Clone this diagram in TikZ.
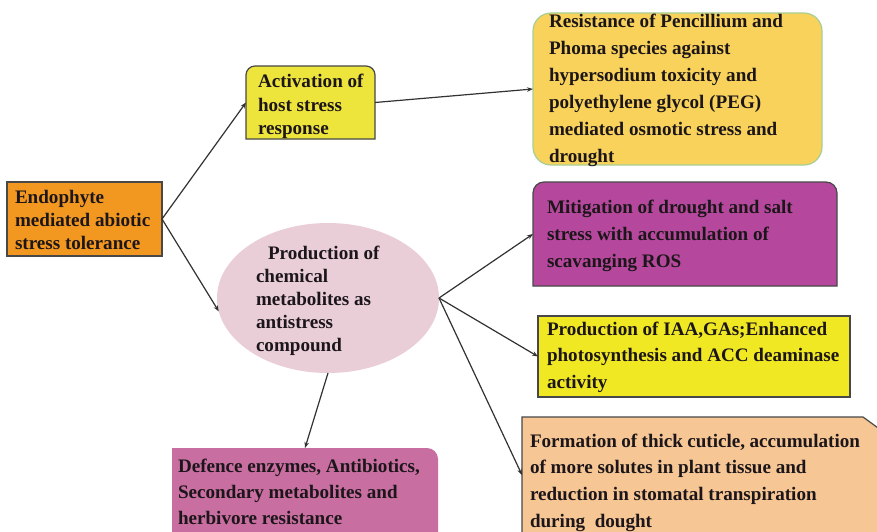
\documentclass[tikz,border=0pt]{standalone}
\usepackage{fontspec}
\setmainfont{Liberation Serif}
\usetikzlibrary{shapes.geometric,arrows.meta}

\definecolor{endoorange}{RGB}{242,152,32}
\definecolor{actyellow}{RGB}{238,229,60}
\definecolor{resgold}{RGB}{248,210,90}
\definecolor{resedge}{RGB}{168,206,150}
\definecolor{mitmagenta}{RGB}{181,72,156}
\definecolor{iaayellow}{RGB}{240,232,34}
\definecolor{ellpink}{RGB}{233,206,216}
\definecolor{defpink}{RGB}{200,110,160}
\definecolor{formpeach}{RGB}{246,198,148}
\definecolor{edgegray}{RGB}{72,72,72}
\definecolor{linkgray}{RGB}{50,50,50}
\definecolor{textdark}{RGB}{28,22,26}

% multi-line label whose anchor is the baseline of its first line
\newcommand\boxtext[2]{\parbox[t]{330pt}{\raggedright\fontsize{19.1pt}{#1}\selectfont #2}}

\begin{document}
\begin{tikzpicture}[x=1pt,y=-1pt,
  area/.style={rectangle, inner sep=0pt, outer sep=0pt},
  edge/.style={draw=edgegray, line width=1.2pt},
  link/.style={draw=linkgray, line width=1.2pt, -{Stealth[length=6pt,width=4.5pt]}},
  label/.style={anchor=base west, inner sep=0pt, outer sep=0pt, text=textdark, font=\bfseries}]

\useasboundingbox (0,0) rectangle (877,532);
\fill[white] (0,0) rectangle (877,532);

% box outlines
\node[area, minimum width=155pt, minimum height=74pt, fill=endoorange, draw=edgegray, line width=1.2pt] (endo) at (84.5,219) {};
\node[area, minimum width=129pt, minimum height=73pt] (act) at (310.5,102.5) {};
\node[area, minimum width=289pt, minimum height=152pt, fill=resgold, draw=resedge, line width=1.2pt, rounded corners=18pt] (res) at (677.5,89) {};
\node[area, minimum width=304pt, minimum height=104pt] (mit) at (685,234) {};
\node[area, minimum width=312pt, minimum height=81pt, fill=iaayellow, draw=edgegray, line width=1.5pt] (iaa) at (694,356.5) {};
\node[ellipse, inner sep=0pt, outer sep=0pt, minimum width=222pt, minimum height=150pt, fill=ellpink] (ell) at (328,298) {};
\node[area, minimum width=266pt, minimum height=100pt] (def) at (305,498) {};
\node[area, minimum width=363pt, minimum height=116pt] (form) at (703.5,475) {};

% boxes with rounded top corners
\path[edge, fill=actyellow] (act.south west) -- ([yshift=-9pt]act.north west)
  arc[start angle=180, end angle=90, radius=9pt] -- ([xshift=-9pt]act.north east)
  arc[start angle=90, end angle=0, radius=9pt] -- (act.south east) -- cycle;
\path[edge, fill=mitmagenta] (mit.south west) -- ([yshift=-11pt]mit.north west)
  arc[start angle=180, end angle=90, radius=11pt] -- ([xshift=-11pt]mit.north east)
  arc[start angle=90, end angle=0, radius=11pt] -- (mit.south east) -- cycle;
% box with one rounded corner
\fill[defpink] (def.south west) -- (def.north west) -- ([xshift=-11pt]def.north east)
  arc[start angle=90, end angle=0, radius=11pt] -- (def.south east) -- cycle;
% box with a snipped corner
\fill[formpeach] (form.south west) -- (form.north west) -- ([xshift=-22pt]form.north east)
  -- ([yshift=-16pt]form.north east) -- (form.south east) -- cycle;
\draw[edge] (form.south west) -- (form.north west) -- ([xshift=-22pt]form.north east)
  -- ([yshift=-16pt]form.north east);

% connectors
\draw[link] (endo.east) -- (act.west);
\draw[link] (endo.east) -- (ell.187);
\draw[link] (act.east) -- (res.west);
\draw[link] (ell.east) -- (mit.west);
\draw[link] (ell.east) -- (iaa.west);
\draw[link] (ell.east) -- (form.west);
\draw[link] (ell.south) -- (def.north);

% labels
\node[label] (endoText) at (15,203) {\boxtext{23.2pt}{Endophyte\\mediated abiotic\\stress tolerance}};
\node[label] (actText) at (258,88) {\boxtext{23.3pt}{Activation of\\host stress\\response}};
\node[label] (resText) at (549,28) {\boxtext{26.9pt}{Resistance of Pencillium and\\Phoma species against\\hypersodium toxicity and\\polyethylene glycol (PEG)\\mediated osmotic stress and\\drought}};
\node[label] (mitText) at (547,213) {\boxtext{27.2pt}{Mitigation of drought and salt\\stress with accumulation of\\scavanging ROS}};
\node[label] (iaaText) at (547,335) {\boxtext{26.5pt}{Production of IAA,GAs;Enhanced\\photosynthesis and ACC deaminase\\activity}};
\node[label] (ellText) at (256,259) {\boxtext{23.2pt}{\hspace*{12pt}Production of\\chemical\\metabolites as\\antistress\\compound}};
\node[label] (defText) at (178,472) {\boxtext{26pt}{Defence enzymes, Antibiotics,\\Secondary metabolites and\\herbivore resistance}};
\node[label] (formText) at (530,447) {\boxtext{26.7pt}{Formation of thick cuticle, accumulation\\of more solutes in plant tissue and\\reduction in stomatal transpiration\\during\ \ dought}};

\end{tikzpicture}
\end{document}
